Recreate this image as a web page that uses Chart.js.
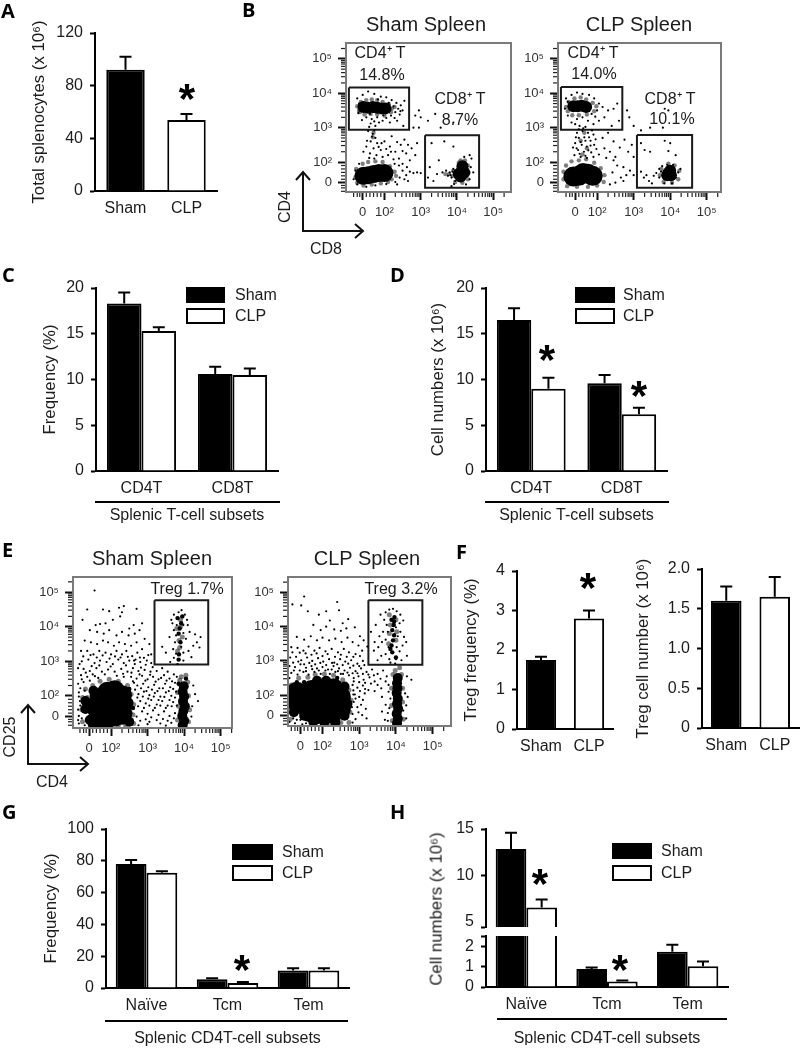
<!DOCTYPE html>
<html>
<head>
<meta charset="utf-8">
<title>Splenic T-cell subsets</title>
<script src="https://cdn.jsdelivr.net/npm/chart.js@4/dist/chart.umd.min.js"></script>
<style>
  html, body { margin: 0; padding: 0; background: #fff; }
  #fig { position: relative; width: 800px; height: 1049px; overflow: hidden; filter: blur(0.45px); font-family: "Liberation Sans", Arial, sans-serif; color: #1c1c1c; }
  #fig canvas { position: absolute; }
  .txt { position: absolute; white-space: nowrap; line-height: 1; }
  .rule { position: absolute; height: 2px; background: #000; }
  svg { position: absolute; left: 0; top: 0; }
</style>
</head>
<body>
<div id="fig"></div>
<script>
// ---- bar panels: values ----
const shamClp = ['Sham', 'CLP'];
const aValues = [92, 54];
const aErrTop = [102, 58.5];
const fFreqValues = [1.75, 2.8];
const fFreqErrTop = [1.83, 3.0];
const fNumValues = [1.6, 1.65];
const fNumErrTop = [1.78, 1.9];

const subsetCats = ['CD4T', 'CD8T'];
const cSham = [18.3, 10.6];
const cClp = [15.3, 10.5];
const cShamErr = [19.5, 11.4];
const cClpErr = [15.7, 11.2];
const dSham = [16.5, 9.6];
const dClp = [9.0, 6.2];
const dShamErr = [17.8, 10.5];
const dClpErr = [10.2, 6.9];

const memoryCats = ['Naïve', 'Tcm', 'Tem'];
const gSham = [78, 5.5, 11];
const gClp = [72.5, 3.2, 11];
const gShamErr = [80.5, 6.2, 12.5];
const gClpErr = [73.5, 3.7, 12.5];
const hSham = [12.86, 0.9, 1.75];
const hClp = [6.57, 0.27, 1.03];
const hShamErr = [14.6, 0.97, 2.1];
const hClpErr = [7.43, 0.32, 1.27];
const hUpperTicks = [15, 10, 5, 4.47];
const hLowerTicks = [0, 1, 2, 2.54];

// ---- flow plots: axis is in decades, "0" sits at 1.4 ----
const flowTicks = [1.4, 2, 3, 4, 5];
const flowTickLabels = ['0', '10²', '10³', '10⁴', '10⁵'];
const flowMinor = [1.15, 1.25, 1.32, 1.5, 1.6, 1.7, 1.8, 1.9, 2.3, 2.48, 2.6, 2.7, 2.78, 2.85, 2.9, 2.95, 3.3, 3.48, 3.6, 3.7, 3.78, 3.85, 3.9, 3.95, 4.3, 4.48, 4.6, 4.7, 4.78, 4.85, 4.9, 4.95, 5.3];

const bShamCd4Gate = [[1.02, 4.17], [2.68, 4.17], [2.68, 2.94], [1.02, 2.94], [1.02, 4.17]];
const bShamCd8Gate = [[3.12, 2.78], [4.61, 2.78], [4.61, 1.25], [3.12, 1.25], [3.12, 2.78]];
const bClpCd4Gate = [[1.01, 4.18], [2.69, 4.18], [2.69, 2.94], [1.01, 2.94], [1.01, 4.18]];
const bClpCd8Gate = [[3.09, 2.79], [4.6, 2.79], [4.6, 1.25], [3.09, 1.25], [3.09, 2.79]];
const eShamGate = [[3.19, 4.77], [4.66, 4.77], [4.66, 2.91], [3.19, 2.91], [3.19, 4.77]];
const eClpGate = [[3.25, 4.77], [4.72, 4.77], [4.72, 2.89], [3.25, 2.89], [3.25, 4.77]];

const bShamCores = [[1.42, 1.6], [1.55, 1.62], [1.7, 1.65], [1.85, 1.68], [2.0, 1.68]];
const bShamClumps = [[1.42, 3.6], [1.55, 3.58], [1.68, 3.6], [1.8, 3.58], [1.92, 3.56], [2.03, 3.56], [4.1, 1.58], [4.12, 1.72], [4.15, 1.88], [4.05, 1.65], [4.2, 1.7]];
const bShamHalo = [[1.25, 3.62], [1.3, 3.5], [1.35, 3.75], [1.5, 3.8], [1.65, 3.82], [1.8, 3.8], [1.95, 3.75], [2.12, 3.68], [2.2, 3.55], [2.28, 3.6], [2.18, 3.45], [2.0, 3.35], [1.8, 3.38], [1.62, 3.4], [1.45, 3.38], [1.32, 3.45],
  [1.2, 1.55], [1.22, 1.8], [1.25, 1.4], [1.4, 1.95], [1.55, 2.0], [1.75, 2.02], [1.95, 2.0], [2.15, 1.88], [2.28, 1.72], [2.32, 1.6], [2.2, 1.5], [2.1, 1.42], [1.9, 1.38], [1.65, 1.35], [1.42, 1.32],
  [3.88, 1.6], [3.9, 1.75], [3.95, 1.42], [4.3, 1.5], [4.32, 1.7], [4.3, 1.9], [4.22, 2.05], [4.05, 1.98], [4.1, 2.05], [4.15, 1.4], [3.78, 1.65], [3.68, 1.65], [1.68, 2.72], [1.7, 2.85]];
const bShamDots = [[1.25, 3.85], [1.4, 3.95], [1.55, 4.05], [1.72, 3.98], [1.9, 3.9], [2.05, 3.88], [2.2, 3.8], [2.33, 3.72], [2.45, 3.65], [2.5, 3.5], [2.42, 3.38], [2.3, 3.45], [2.18, 3.35], [2.05, 3.28], [1.95, 3.2], [1.8, 3.3], [1.65, 3.25], [1.5, 3.3], [1.38, 3.22], [1.28, 3.42], [1.62, 3.12], [1.75, 3.05], [1.85, 3.15], [2.15, 3.15], [2.35, 3.2], [2.52, 3.05], [1.58, 3.02], [1.72, 3.18], [2.25, 3.62], [2.38, 3.55], [2.55, 3.78], [2.28, 3.28], [2.44, 3.48], [1.97, 3.36], [1.6, 3.4], [1.82, 3.82], [1.3, 3.7], [2.12, 3.72],
  [1.55, 2.9], [1.68, 2.82], [1.75, 2.7], [1.62, 2.6], [1.8, 2.55], [1.5, 2.45], [1.7, 2.4], [1.9, 2.35], [1.6, 2.25], [1.78, 2.2], [1.72, 2.92], [1.66, 2.74], [1.52, 2.62], [1.84, 2.44], [1.42, 2.3], [1.58, 2.12], [1.72, 2.1], [1.92, 2.55],
  [2.0, 2.6], [2.15, 2.45], [2.3, 2.3], [2.1, 2.2], [2.45, 2.5], [2.6, 2.25], [2.4, 2.1], [2.75, 2.4], [2.55, 2.65], [2.85, 2.2], [2.9, 2.55], [2.2, 2.75], [2.7, 2.05], [1.95, 2.15], [2.25, 2.08], [2.05, 2.38], [2.35, 2.58], [2.5, 2.32], [2.65, 2.5], [2.18, 2.3],
  [2.4, 1.9], [2.5, 1.75], [2.6, 1.62], [2.7, 1.72], [2.8, 1.68], [2.9, 1.7], [3.0, 1.68], [2.55, 1.5], [2.35, 1.35], [2.65, 1.45], [2.5, 1.95], [2.3, 1.42], [2.42, 1.55], [2.28, 1.95], [2.62, 1.85], [1.15, 1.5], [1.2, 1.75], [1.25, 1.35], [1.3, 1.95], [1.5, 1.28], [1.75, 1.32], [2.05, 1.36],
  [2.95, 3.5], [2.85, 3.35], [3.0, 3.3], [3.2, 3.2], [3.4, 3.4], [3.55, 3.0], [3.9, 3.15], [2.8, 3.0], [2.95, 3.0],
  [3.3, 2.55], [3.65, 2.6], [3.9, 2.45], [3.25, 1.85], [3.45, 1.65], [3.6, 1.7], [3.7, 1.75], [3.75, 1.6], [3.8, 1.7], [3.85, 1.55], [3.9, 1.8], [3.95, 1.45], [4.35, 2.2], [4.4, 2.1], [4.2, 2.15], [3.5, 2.05], [3.2, 1.55], [3.35, 1.45], [4.35, 1.5], [4.45, 1.7], [3.85, 1.3], [4.25, 1.35], [3.82, 1.62], [3.88, 1.72], [4.38, 1.85], [3.92, 1.36]];

const bClpCores = [[1.35, 1.58], [1.5, 1.6], [1.62, 1.68], [1.75, 1.66], [1.88, 1.6]];
const bClpClumps = [[1.35, 3.62], [1.47, 3.62], [1.58, 3.64], [1.7, 3.6], [3.95, 1.68], [4.02, 1.62], [4.0, 1.75], [3.92, 1.62]];
const bClpHalo = [[1.15, 3.6], [1.2, 3.48], [1.22, 3.75], [1.38, 3.85], [1.55, 3.88], [1.7, 3.82], [1.88, 3.72], [1.98, 3.62], [1.92, 3.48], [1.72, 3.38], [1.5, 3.36], [1.32, 3.36],
  [1.08, 1.5], [1.08, 1.72], [1.15, 1.9], [1.3, 2.02], [1.5, 2.05], [1.7, 2.08], [1.92, 1.98], [2.1, 1.82], [2.2, 1.62], [2.18, 1.42], [2.0, 1.32], [1.75, 1.28], [1.45, 1.28], [1.18, 1.3],
  [3.72, 1.62], [3.76, 1.8], [3.82, 1.42], [4.22, 1.5], [4.25, 1.75], [4.12, 1.9], [3.95, 1.95], [4.05, 1.4], [1.65, 2.85], [1.55, 2.62], [1.72, 2.4], [1.6, 2.22]];
const bClpDots = [[1.15, 3.85], [1.3, 3.95], [1.45, 4.02], [1.6, 3.98], [1.78, 3.95], [1.92, 3.85], [2.05, 3.7], [2.15, 3.6], [2.3, 3.5], [2.45, 3.55], [2.55, 3.7], [2.2, 3.3], [2.05, 3.2], [1.9, 3.1], [1.75, 3.2], [1.6, 3.3], [1.45, 3.25], [1.3, 3.15], [1.2, 3.35], [1.12, 3.55], [1.85, 3.4], [1.52, 3.05], [1.68, 3.02], [2.4, 3.05], [2.6, 3.2], [1.4, 3.1], [1.95, 3.32], [2.0, 3.5], [1.8, 3.6], [1.2, 3.75],
  [1.45, 2.85], [1.6, 2.9], [1.75, 2.85], [1.9, 2.8], [1.5, 2.7], [1.65, 2.72], [1.82, 2.62], [1.4, 2.55], [1.58, 2.5], [1.72, 2.45], [1.92, 2.5], [1.48, 2.35], [1.64, 2.3], [1.84, 2.28], [1.98, 2.38], [1.38, 2.2], [1.55, 2.15], [1.72, 2.12], [1.9, 2.15], [2.05, 2.22], [1.44, 2.4], [1.78, 2.72], [1.55, 2.58], [1.68, 2.18], [1.42, 2.72], [1.86, 2.92], [1.62, 2.98], [1.96, 2.66], [1.76, 2.34], [1.34, 2.42], [1.5, 2.95], [1.68, 2.62], [1.82, 2.48], [1.52, 2.24],
  [2.15, 2.7], [2.3, 2.85], [2.45, 2.6], [2.2, 2.4], [2.35, 2.3], [2.5, 2.15], [2.62, 2.42], [2.75, 2.65], [2.85, 2.3], [2.95, 2.5], [3.0, 2.15], [2.55, 1.9], [2.72, 1.85], [2.9, 1.75], [2.45, 2.05], [2.25, 2.12], [2.82, 3.5], [2.88, 3.3], [3.0, 3.05], [3.2, 2.92], [3.45, 3.0], [3.8, 3.0], [3.85, 3.55], [3.95, 3.5], [2.65, 1.55], [2.5, 1.4], [2.72, 1.45], [2.35, 1.35], [2.42, 1.7], [2.8, 1.62], [3.0, 1.62],
  [3.2, 2.55], [3.3, 2.35], [3.85, 2.62], [4.0, 2.55], [3.95, 2.32], [4.15, 2.2], [3.45, 2.3], [3.2, 1.72], [3.28, 1.55], [3.35, 1.62], [3.42, 1.45], [3.5, 1.38], [3.55, 1.6], [3.62, 1.68], [3.7, 1.8], [3.75, 1.72], [3.78, 1.88], [3.84, 1.38], [3.92, 1.92], [4.08, 1.92], [4.15, 1.55], [4.22, 1.7], [4.28, 1.8], [4.05, 1.38], [3.7, 1.55]];

const eShamCores = [[1.68, 1.6], [1.7, 1.9], [1.72, 1.35], [1.9, 1.35], [1.92, 1.65], [1.95, 2.0], [1.9, 2.12], [2.1, 1.4], [2.12, 1.7], [2.15, 2.0], [2.1, 2.16], [2.3, 1.45], [2.32, 1.75], [2.3, 2.02]];
const eShamClumps = [[3.96, 1.15], [4.0, 1.28], [3.95, 1.42], [3.98, 1.56], [4.02, 1.7], [3.97, 1.84], [4.0, 1.98], [3.96, 2.12], [3.99, 2.28], [1.5, 1.55], [1.48, 1.8], [1.55, 2.0], [2.45, 1.5], [2.48, 1.8], [1.42, 1.3], [1.3, 1.62], [1.3, 1.85], [1.5, 1.18], [1.52, 2.15], [2.5, 1.25]];
const eShamHalo = [[1.22, 1.25], [1.2, 1.6], [1.22, 1.95], [1.3, 2.2], [1.5, 2.3], [1.7, 2.42], [1.95, 2.48], [2.2, 2.42], [2.45, 2.3], [2.55, 2.05], [2.62, 1.75], [2.6, 1.45], [2.62, 1.2], [2.4, 1.15], [2.2, 1.15], [1.95, 1.12], [1.7, 1.12], [1.5, 1.2], [1.35, 1.3], [1.38, 1.65], [1.35, 1.95],
  [3.82, 1.3], [3.85, 1.7], [3.82, 2.1], [3.88, 2.45], [4.12, 1.25], [4.15, 1.6], [4.12, 2.0], [4.1, 2.4], [3.92, 2.55], [4.05, 2.6],
  [3.82, 3.3], [3.86, 3.6], [3.9, 4.0], [3.95, 3.7], [3.8, 3.95], [3.88, 3.4], [3.9, 4.2]];
const eShamMid = [[3.86, 3.2], [3.9, 3.55], [3.85, 3.8], [3.88, 3.95], [3.92, 4.1], [3.82, 4.25], [3.95, 4.3], [3.85, 3.05], [4.05, 2.5], [3.85, 2.35], [1.42, 1.4], [2.5, 2.2], [2.55, 1.25], [2.6, 1.65]];
const eShamDots = [[1.55, 5.05], [1.35, 4.5], [1.78, 4.5], [1.95, 4.45], [2.22, 4.55], [2.35, 4.6], [2.3, 4.42], [2.25, 4.3], [2.7, 4.52], [1.22, 4.2], [1.58, 4.05], [1.7, 4.08], [1.85, 4.1], [2.05, 4.2], [2.5, 3.95], [2.62, 4.05], [2.85, 4.1], [1.42, 3.9], [1.62, 3.85], [1.8, 3.8], [1.95, 3.9], [2.15, 3.75], [2.3, 3.85], [2.48, 3.75], [2.65, 3.8], [2.78, 3.9], [2.92, 3.65], [1.28, 3.6], [1.45, 3.55], [1.62, 3.5], [1.78, 3.6], [1.92, 3.55], [2.08, 3.45], [2.22, 3.55], [2.38, 3.5], [2.55, 3.45], [2.7, 3.55], [2.85, 3.35], [3.05, 3.5], [1.18, 3.3], [1.35, 3.3], [1.52, 3.2], [1.68, 3.3], [1.85, 3.25], [2.0, 3.2], [2.15, 3.3], [2.3, 3.2], [2.42, 3.3], [2.58, 3.15], [2.72, 3.25], [2.9, 3.1], [3.1, 3.2], [1.2, 3.0], [1.38, 3.05], [1.55, 2.95], [1.7, 3.02], [1.88, 2.98], [2.05, 2.92], [2.2, 3.05], [2.35, 2.95], [2.5, 3.02], [2.65, 2.92], [2.8, 2.98], [2.95, 2.9], [3.1, 2.95], [1.1, 2.8], [1.25, 2.78], [1.42, 2.72], [1.6, 2.8], [1.75, 2.7], [1.92, 2.76], [2.1, 2.7], [2.28, 2.78], [2.45, 2.7], [2.6, 2.8], [2.75, 2.72], [2.92, 2.75], [3.08, 2.7], [3.25, 2.72], [3.4, 2.8], [3.55, 2.7], [1.18, 2.6], [1.35, 2.55], [1.5, 2.62], [1.65, 2.52], [2.55, 2.55], [2.7, 2.5], [2.85, 2.58], [3.0, 2.48], [3.15, 2.55], [3.3, 2.48], [3.45, 2.6], [3.6, 2.5], [3.72, 2.62], [1.1, 2.35], [1.25, 2.4], [2.72, 2.3], [2.88, 2.35], [3.02, 2.25], [3.18, 2.32], [3.32, 2.22], [3.48, 2.35], [3.62, 2.25], [3.75, 2.38], [1.12, 2.1], [1.28, 2.15], [2.75, 2.05], [2.9, 2.12], [3.05, 2.02], [3.2, 2.08], [3.35, 1.98], [3.5, 2.1], [3.65, 2.0], [3.78, 2.12], [1.15, 1.85], [1.1, 1.6], [2.8, 1.85], [2.95, 1.78], [3.1, 1.88], [3.25, 1.75], [3.4, 1.85], [3.55, 1.72], [3.7, 1.82], [3.8, 1.72], [1.2, 1.35], [1.12, 1.2], [2.7, 1.4], [2.85, 1.55], [3.0, 1.48], [3.15, 1.58], [3.3, 1.45], [3.45, 1.55], [3.6, 1.42], [3.75, 1.5], [3.05, 1.25], [3.35, 1.2], [3.65, 1.22], [4.25, 2.3], [4.3, 2.05], [4.22, 1.7], [4.38, 1.85], [4.2, 1.4],
  [3.72, 4.35], [3.65, 4.2], [3.85, 4.42], [3.93, 4.48], [4.02, 4.35], [4.08, 4.2], [3.98, 4.05], [3.8, 4.05], [3.72, 3.9], [3.78, 3.75], [3.98, 3.82], [4.05, 3.65], [3.75, 3.55], [3.92, 3.42], [3.7, 3.35], [3.4, 3.42], [3.5, 3.25], [3.98, 3.25], [4.12, 3.3], [3.72, 3.1], [3.98, 3.02], [4.2, 3.12], [4.35, 3.55], [4.45, 3.7], [4.3, 3.78], [4.15, 3.85], [4.42, 3.4], [4.25, 3.45], [3.62, 2.98], [3.82, 2.92], [4.1, 4.05], [3.6, 3.7], [3.78, 3.22], [3.68, 4.1]];
const eShamMore = [[1.14, 2.92], [1.31, 2.67], [1.47, 2.86], [1.56, 2.57], [1.68, 2.88], [1.83, 2.62], [1.99, 2.85], [2.16, 2.58], [2.33, 2.64], [2.41, 2.88], [2.56, 2.67], [2.67, 3.05], [2.82, 2.82], [2.98, 3.02], [3.14, 2.83], [1.24, 3.14], [1.44, 3.18], [1.61, 3.11], [1.77, 3.17], [1.96, 3.08], [2.11, 3.14], [2.26, 3.11], [2.46, 3.13], [2.63, 3.02], [2.79, 3.11], [3.02, 3.18],
  [2.63, 2.38], [2.78, 2.62], [2.94, 2.44], [3.07, 2.61], [3.22, 2.41], [3.37, 2.52], [3.52, 2.44], [3.67, 2.42], [3.8, 2.55], [2.66, 2.18], [2.82, 2.22], [2.97, 2.14], [3.12, 2.18], [3.27, 2.14], [3.42, 2.22], [3.58, 2.14], [3.7, 2.2], [2.72, 1.95], [2.87, 1.98], [3.02, 1.92], [3.17, 1.98], [3.3, 1.88], [3.46, 1.97], [3.6, 1.88], [3.75, 1.95], [2.74, 1.7], [2.9, 1.65], [3.05, 1.72], [3.2, 1.65], [3.35, 1.72], [3.5, 1.65], [3.66, 1.7], [2.8, 1.28], [2.95, 1.32], [3.1, 1.38], [3.25, 1.3], [3.42, 1.33], [3.55, 1.28], [3.72, 1.35], [2.75, 1.15], [3.0, 1.18], [3.5, 1.14],
  [1.12, 1.42], [1.16, 1.72], [1.12, 1.98], [1.16, 2.22], [1.2, 2.48], [1.42, 2.44], [2.35, 2.55], [2.6, 2.42], [1.1, 1.3], [1.28, 1.15]];

const eClpCores = [[1.3, 1.8], [1.3, 2.1], [1.5, 1.7], [1.5, 2.05], [1.65, 1.5], [1.7, 1.85], [1.7, 2.15], [1.9, 1.45], [1.92, 1.8], [1.9, 2.2], [2.1, 1.45], [2.12, 1.8], [2.12, 2.2], [2.3, 1.5], [2.33, 1.85], [2.3, 2.2], [2.5, 1.6], [2.5, 1.95]];
const eClpClumps = [[4.03, 1.18], [4.05, 1.32], [4.02, 1.46], [4.06, 1.6], [4.03, 1.75], [4.05, 1.9], [4.02, 2.06], [4.04, 2.2], [4.03, 2.35], [4.05, 2.5], [1.22, 1.5], [2.6, 1.4], [2.68, 1.75], [2.6, 2.25], [2.1, 2.42], [1.85, 2.42], [1.5, 1.4], [1.75, 1.22], [2.05, 1.2], [2.35, 1.2]];
const eClpHalo = [[1.12, 1.3], [1.15, 1.6], [1.12, 2.0], [1.15, 2.3], [1.35, 2.5], [1.6, 2.52], [1.8, 2.6], [2.05, 2.62], [2.3, 2.58], [2.55, 2.45], [2.72, 2.15], [2.78, 1.85], [2.75, 1.5], [2.72, 1.2], [2.5, 1.2], [2.25, 1.15], [2.0, 1.15], [1.75, 1.2], [1.45, 1.35],
  [3.9, 1.25], [3.88, 1.7], [3.88, 2.2], [3.92, 2.6], [4.2, 1.3], [4.18, 1.8], [4.18, 2.2], [4.15, 2.6], [3.98, 2.72], [4.1, 2.8],
  [3.8, 3.5], [3.82, 3.8], [3.85, 4.05], [4.0, 3.6], [4.02, 3.85], [4.0, 4.2], [3.82, 4.35]];
const eClpMid = [[3.9, 3.25], [3.88, 3.45], [3.92, 3.6], [3.95, 3.75], [3.9, 3.9], [3.94, 4.05], [3.88, 4.2], [3.96, 4.28], [3.85, 3.35], [4.0, 3.1], [3.95, 4.15], [1.5, 2.38], [2.4, 2.5], [1.3, 2.38]];
const eClpDots = [[1.18, 4.65], [1.42, 4.62], [1.5, 4.88], [1.6, 4.45], [1.9, 4.35], [2.1, 4.45], [2.4, 4.72], [2.45, 4.48], [2.2, 4.18], [2.55, 4.1], [2.7, 4.22], [1.75, 4.05], [1.95, 3.9], [2.1, 4.0], [2.32, 3.92], [2.5, 3.88], [2.65, 3.95], [2.88, 3.98], [3.02, 3.72], [1.3, 3.7], [1.5, 3.62], [1.68, 3.72], [1.85, 3.6], [2.0, 3.68], [2.18, 3.6], [2.35, 3.65], [2.52, 3.55], [2.68, 3.68], [2.82, 3.55], [2.98, 3.45], [3.12, 3.6], [1.15, 3.4], [1.32, 3.38], [1.48, 3.3], [1.62, 3.42], [1.78, 3.3], [1.92, 3.38], [2.08, 3.28], [2.25, 3.35], [2.42, 3.25], [2.58, 3.35], [2.72, 3.25], [2.9, 3.2], [3.08, 3.3], [3.22, 3.42], [1.12, 3.1], [1.28, 3.12], [1.42, 3.02], [1.58, 3.1], [1.72, 3.0], [1.88, 3.08], [2.02, 2.98], [2.18, 3.05], [2.32, 2.95], [2.48, 3.05], [2.62, 2.98], [2.78, 3.02], [2.95, 2.92], [3.1, 3.0], [1.1, 2.85], [1.25, 2.82], [1.4, 2.9], [1.55, 2.8], [1.7, 2.85], [1.85, 2.78], [2.0, 2.82], [2.15, 2.75], [2.3, 2.85], [2.45, 2.78], [2.6, 2.72], [2.75, 2.8], [2.9, 2.7], [3.05, 2.78], [3.2, 2.68], [3.35, 2.75], [3.5, 2.62], [3.65, 2.72], [1.15, 2.65], [1.32, 2.6], [1.48, 2.68], [1.62, 2.6], [1.78, 2.68], [1.95, 2.62], [2.2, 2.62], [2.35, 2.68], [2.5, 2.62], [2.72, 2.58], [2.85, 2.5], [2.98, 2.55], [3.12, 2.45], [3.28, 2.52], [3.42, 2.4], [3.58, 2.48], [3.72, 2.4], [2.82, 2.3], [2.95, 2.22], [3.1, 2.28], [3.25, 2.15], [3.42, 2.12], [2.88, 2.02], [3.0, 1.95], [3.15, 2.05], [2.85, 1.8], [2.95, 1.65], [3.05, 1.72], [3.18, 1.6], [2.82, 1.45], [2.9, 1.3], [3.2, 1.32], [3.62, 1.95], [3.72, 1.72], [3.78, 1.48], [3.7, 1.28], [3.62, 1.52], [3.85, 1.9], [4.3, 2.55], [4.42, 2.45], [4.32, 1.95], [4.2, 1.55], [4.28, 1.32], [1.1, 1.22], [1.25, 1.18], [1.4, 1.28], [1.55, 1.18], [1.2, 1.32],
  [3.58, 4.35], [3.68, 4.2], [3.72, 4.42], [3.82, 4.5], [3.92, 4.52], [4.02, 4.45], [4.12, 4.35], [4.2, 4.18], [4.1, 4.1], [4.0, 3.98], [4.12, 3.85], [4.22, 3.7], [4.05, 3.72], [3.75, 4.05], [3.65, 3.85], [3.55, 3.72], [3.42, 3.55], [3.4, 3.3], [3.52, 3.4], [3.62, 3.55], [3.72, 3.62], [3.78, 3.85], [3.8, 3.4], [3.72, 3.2], [3.82, 3.05], [3.6, 3.15], [3.5, 3.02], [4.02, 3.4], [4.1, 3.28], [4.18, 3.45], [4.28, 3.55], [4.0, 3.05], [4.15, 3.02], [4.3, 3.15], [3.85, 2.95], [3.98, 2.92], [3.32, 3.85], [3.45, 4.05]];
const eClpMore = [[1.18, 3.25], [1.38, 3.24], [1.54, 3.22], [1.7, 3.18], [1.84, 3.22], [2.0, 3.14], [2.14, 3.2], [2.34, 3.12], [2.5, 3.18], [2.66, 3.12], [2.84, 3.12], [3.02, 3.14], [1.2, 2.95], [1.34, 2.98], [1.5, 2.9], [1.64, 2.94], [1.8, 2.9], [1.94, 2.94], [2.1, 2.88], [2.26, 2.94], [2.4, 2.9], [2.55, 2.88], [2.7, 2.92], [2.84, 2.86], [3.0, 2.85], [3.14, 2.88], [1.22, 2.72], [1.38, 2.72], [1.55, 2.7], [1.72, 2.76], [1.9, 2.72], [2.08, 2.72], [2.25, 2.75], [2.42, 2.7], [2.56, 2.62], [2.68, 2.66], [2.82, 2.64], [2.95, 2.64], [3.1, 2.62], [3.25, 2.6], [3.4, 2.58],
  [2.85, 2.4], [3.0, 2.38], [3.16, 2.36], [3.32, 2.34], [3.5, 2.3], [2.84, 2.14], [3.02, 2.12], [3.16, 2.18], [2.9, 1.9], [3.1, 1.86], [2.98, 1.5], [3.08, 1.42], [3.6, 2.2], [3.75, 2.55], [3.8, 2.1], [3.82, 1.62], [3.78, 1.25], [3.8, 2.3], [4.25, 2.05], [4.28, 1.7],
  [1.08, 1.5], [1.1, 1.85], [1.08, 2.2], [1.1, 2.5], [1.18, 1.42], [1.3, 1.28], [1.45, 1.15], [1.62, 1.28], [2.82, 1.2], [2.8, 1.65], [2.84, 2.02]];

// ---- shared helpers ----
const fig = document.getElementById('fig');
const FONT = '"Liberation Sans", Arial, sans-serif';
Chart.defaults.font.family = FONT;
Chart.defaults.color = '#1c1c1c';
Chart.defaults.animation = false;
Chart.defaults.responsive = false;
Chart.defaults.plugins.legend.display = false;
Chart.defaults.plugins.tooltip.enabled = false;

function txt(html, cx, cy, size, extra) {
  const d = document.createElement('div');
  d.className = 'txt';
  d.innerHTML = html;
  d.style.cssText = `left:${cx}px;top:${cy}px;font-size:${size}px;transform:translate(-50%,-50%);` + (extra || '');
  fig.appendChild(d);
}
function panelLetter(s, x, cy) {
  txt(s, x, cy, 20, 'transform:translate(0,-50%);font-family:"Open Sans";font-weight:700;color:#000;');
}
function star(cx, cy) {
  txt('*', cx, cy + 5, 42, 'font-weight:700;color:#000;');
}
function rule(x0, x1, y) {
  const d = document.createElement('div');
  d.className = 'rule';
  d.style.cssText = `left:${x0}px;width:${x1 - x0}px;top:${y - 1}px;`;
  fig.appendChild(d);
}
function addCanvas(left, top, w, h) {
  const c = document.createElement('canvas');
  c.width = w; c.height = h;
  c.style.left = left + 'px'; c.style.top = top + 'px';
  fig.appendChild(c);
  return c;
}

// error bars, upper side only, drawn from the bar's top
function whiskers(errs) {
  return {
    id: 'whiskers',
    afterDatasetsDraw(chart) {
      const { ctx, scales: { y } } = chart;
      ctx.save();
      ctx.strokeStyle = '#000'; ctx.lineWidth = 2;
      errs.forEach((arr, i) => {
        const meta = chart.getDatasetMeta(i);
        arr.forEach((e, j) => {
          const v = chart.data.datasets[i].data[j];
          if (e > y.max || v < y.min) return;
          const x = meta.data[j].x;
          const y0 = y.getPixelForValue(v), y1 = y.getPixelForValue(e);
          ctx.beginPath();
          ctx.moveTo(x, y0); ctx.lineTo(x, y1);
          ctx.moveTo(x - 6, y1); ctx.lineTo(x + 6, y1);
          ctx.stroke();
        });
      });
      ctx.restore();
    },
  };
}
// legend boxes from the dataset labels; x/y are page coordinates
function boxLegend(x0, x1, textX, rows, canvasLeft, canvasTop) {
  return {
    id: 'boxLegend',
    afterDraw(chart) {
      const { ctx } = chart;
      ctx.save();
      ctx.font = '16px ' + FONT;
      ctx.textBaseline = 'middle';
      chart.data.datasets.forEach((ds, i) => {
        const [t, b] = rows[i];
        ctx.fillStyle = ds.backgroundColor;
        ctx.strokeStyle = '#000'; ctx.lineWidth = 2;
        ctx.fillRect(x0 - canvasLeft, t - canvasTop, x1 - x0, b - t);
        ctx.strokeRect(x0 - canvasLeft, t - canvasTop, x1 - x0, b - t);
        ctx.fillStyle = '#1c1c1c';
        ctx.fillText(ds.label, textX - canvasLeft, (t + b) / 2 - canvasTop + 1);
      });
      ctx.restore();
    },
  };
}

const LM = 82, TM = 12, RM = 4;
// chart area must stay where the box says, whatever the tick labels want
function pinX(height) {
  return (s) => { s.height = height; s.paddingLeft = 0; s.paddingRight = 0; };
}
function pinY(width) {
  return (s) => { s.width = width; s.paddingTop = 0; s.paddingBottom = 0; };
}

function barChart(cfg) {
  const [l, t, r, b] = cfg.box;
  const bottomM = cfg.bottomM || 30;
  const cLeft = l - LM, cTop = t - TM;
  const canvas = addCanvas(cLeft, cTop, r - l + LM + RM, b - t + TM + bottomM);
  const plugins = [whiskers(cfg.errs)];
  if (cfg.legend) plugins.push(boxLegend(cfg.legend[0], cfg.legend[1], cfg.legend[2], cfg.legend[3], cLeft, cTop));
  const yTicks = { font: { size: 16 }, padding: 7, autoSkip: false };
  if (cfg.tickList) {
    yTicks.callback = (v) => (cfg.tickHide && cfg.tickHide.includes(v) ? '' : String(v));
  } else {
    yTicks.stepSize = cfg.step;
  }
  return new Chart(canvas, {
    type: 'bar',
    data: { labels: cfg.cats, datasets: cfg.datasets },
    options: {
      layout: { padding: { top: TM, right: RM, left: 0, bottom: 0 } },
      scales: {
        x: {
          display: cfg.hideX ? false : true,
          offset: true,
          grid: { drawOnChartArea: false, drawTicks: false },
          border: { color: '#000', width: 2 },
          ticks: { font: { size: 16 }, padding: 8, maxRotation: 0, autoSkip: false },
          title: cfg.xTitle ? { display: true, text: cfg.xTitle, font: { size: 16 }, padding: { top: 0, bottom: bottomM - cfg.xTitleAt - 9.6 } } : { display: false },
          afterFit: pinX(bottomM),
        },
        y: {
          min: cfg.min, max: cfg.max,
          grid: {
            drawOnChartArea: false, tickLength: 5, tickWidth: 2,
            tickColor: (c) => (cfg.tickBlank && cfg.tickBlank.includes(c.tick && c.tick.value) ? 'transparent' : '#000'),
          },
          border: { color: '#000', width: 2 },
          ticks: yTicks,
          afterBuildTicks: cfg.tickList ? (s) => { s.ticks = cfg.tickList.map((v) => ({ value: v })); } : undefined,
          title: cfg.yTitle ? { display: true, text: cfg.yTitle, font: { size: 16.8 }, padding: { top: cfg.yTitleX - cLeft - 10, bottom: 0 } } : { display: false },
          afterFit: pinY(LM),
        },
      },
    },
    plugins,
  });
}
function pairSets(sham, clp) {
  return [
    { label: 'Sham', data: sham, backgroundColor: '#000', borderColor: '#000', borderWidth: 2, categoryPercentage: 0.76, barPercentage: 1 },
    { label: 'CLP', data: clp, backgroundColor: '#fff', borderColor: '#000', borderWidth: 2, categoryPercentage: 0.76, barPercentage: 1 },
  ];
}
function singleSet(values) {
  return [{ data: values, backgroundColor: ['#000', '#fff'], borderColor: '#000', borderWidth: 2, categoryPercentage: 1, barPercentage: 0.63 }];
}

// little ticks plus the grey frame of a flow plot
const flowFrame = {
  id: 'flowFrame',
  afterDraw(chart) {
    const { ctx, chartArea: a, scales: { x, y } } = chart;
    ctx.save();
    ctx.strokeStyle = '#222'; ctx.lineWidth = 1.2;
    flowMinor.forEach((v) => {
      if (v > x.min) { const px = x.getPixelForValue(v); ctx.beginPath(); ctx.moveTo(px, a.bottom); ctx.lineTo(px, a.bottom + 5); ctx.stroke(); }
      if (v > y.min) { const py = y.getPixelForValue(v); ctx.beginPath(); ctx.moveTo(a.left, py); ctx.lineTo(a.left - 5, py); ctx.stroke(); }
    });
    ctx.strokeStyle = '#7a7a7a'; ctx.lineWidth = 2;
    ctx.strokeRect(a.left, a.top, a.right - a.left, a.bottom - a.top);
    ctx.restore();
  },
};
function flowLayer(list, r, color) {
  return { data: list.map(([x, y]) => ({ x, y })), pointRadius: r, pointBackgroundColor: color || '#000', pointBorderWidth: 0, showLine: false };
}
function gateLine(list) {
  return { data: list.map(([x, y]) => ({ x, y })), showLine: true, pointRadius: 0, borderColor: '#1a1a1a', borderWidth: 2, fill: false };
}
function flowChart(cfg) {
  const [l, t, r, b] = cfg.box;
  const lm = 42, tm = 6, rm = 6, bm = 32;
  const canvas = addCanvas(l - lm, t - tm, r - l + lm + rm, b - t + tm + bm);
  const tick = { font: { size: 13 }, color: '#333', autoSkip: false, maxRotation: 0, callback: (v, i) => flowTickLabels[i] };
  const grid = { drawOnChartArea: false, tickLength: 8, tickWidth: 2, tickColor: '#111' };
  return new Chart(canvas, {
    type: 'scatter',
    data: { datasets: cfg.layers },
    options: {
      layout: { autoPadding: false, padding: { top: tm, right: rm, left: 0, bottom: 0 } },
      scales: {
        x: {
          type: 'linear', min: cfg.xr[0], max: cfg.xr[1], grid, border: { display: false },
          ticks: { ...tick, padding: 5 },
          afterBuildTicks: (s) => { s.ticks = flowTicks.map((v) => ({ value: v })); },
          afterFit: pinX(bm),
        },
        y: {
          type: 'linear', min: cfg.yr[0], max: cfg.yr[1], grid, border: { display: false },
          ticks: { ...tick, padding: 6 },
          afterBuildTicks: (s) => { s.ticks = flowTicks.map((v) => ({ value: v })); },
          afterFit: pinY(lm),
        },
      },
    },
    plugins: [flowFrame],
  });
}

// ---- panels ----
barChart({ box: [95, 33, 217, 191], cats: shamClp, datasets: singleSet(aValues), errs: [aErrTop], min: 0, max: 120, step: 40,
  yTitle: 'Total splenocytes (x 10⁶)', yTitleX: 39 });
barChart({ box: [96, 288, 278, 471], cats: subsetCats, datasets: pairSets(cSham, cClp), errs: [cShamErr, cClpErr], min: 0, max: 20, step: 5,
  yTitle: 'Frequency (%)', yTitleX: 50, xTitle: 'Splenic T-cell subsets', xTitleAt: 45, bottomM: 55,
  legend: [187, 224, 235, [[288, 302], [309, 323]]] });
barChart({ box: [486, 288, 667, 471], cats: subsetCats, datasets: pairSets(dSham, dClp), errs: [dShamErr, dClpErr], min: 0, max: 20, step: 5,
  yTitle: 'Cell numbers (x 10⁶)', yTitleX: 438, xTitle: 'Splenic T-cell subsets', xTitleAt: 45, bottomM: 55,
  legend: [576, 614, 623, [[288, 302], [309, 323]]] });
barChart({ box: [517, 571, 613, 729], cats: shamClp, datasets: singleSet(fFreqValues), errs: [fFreqErrTop], min: 0, max: 4, step: 1,
  yTitle: 'Treg frequency (%)', yTitleX: 471 });
barChart({ box: [702, 569, 799, 728], cats: shamClp, datasets: singleSet(fNumValues), errs: [fNumErrTop], min: 0, max: 2, step: 0.5,
  yTitle: 'Treg cell number (x 10⁶)', yTitleX: 643 });
barChart({ box: [106, 829, 349, 988], cats: memoryCats, datasets: pairSets(gSham, gClp), errs: [gShamErr, gClpErr], min: 0, max: 100, step: 20,
  yTitle: 'Frequency (%)', yTitleX: 51, xTitle: 'Splenic CD4T-cell subsets', xTitleAt: 51, bottomM: 58,
  legend: [233, 272, 282, [[845, 859], [866, 880]]] });
// H has a broken y axis: two charts over the same values
barChart({ box: [486, 829, 728, 927], cats: memoryCats, datasets: pairSets(hSham, hClp), errs: [hShamErr, hClpErr], min: 4.47, max: 15,
  tickList: hUpperTicks, tickHide: [4.47], tickBlank: [5], hideX: true, bottomM: 4,
  legend: [613, 651, 661, [[844, 858], [866, 880]]] });
barChart({ box: [486, 936, 728, 987], cats: memoryCats, datasets: pairSets(hSham, hClp), errs: [hShamErr, hClpErr], min: 0, max: 2.54,
  tickList: hLowerTicks, tickHide: [2.54], xTitle: 'Splenic CD4T-cell subsets', xTitleAt: 52, bottomM: 58 });

const HALO = 'rgba(0,0,0,0.5)';
flowChart({ box: [346, 43, 511, 192], xr: [0.94, 5.49], yr: [1.13, 5.46], layers: [
  flowLayer(bShamHalo, 2.2, HALO), flowLayer(bShamCores, 9), flowLayer(bShamClumps, 6), flowLayer(bShamDots, 1.1), gateLine(bShamCd4Gate), gateLine(bShamCd8Gate)] });
flowChart({ box: [558, 43, 721, 192], xr: [0.93, 5.39], yr: [1.13, 5.46], layers: [
  flowLayer(bClpHalo, 2.2, HALO), flowLayer(bClpCores, 10), flowLayer(bClpClumps, 6), flowLayer(bClpDots, 1.1), gateLine(bClpCd4Gate), gateLine(bClpCd8Gate)] });
flowChart({ box: [73, 577, 232, 728], xr: [0.96, 5.31], yr: [1.07, 5.44], layers: [
  flowLayer(eShamHalo, 2.5, HALO), flowLayer(eShamCores, 10), flowLayer(eShamClumps, 5), flowLayer(eShamMid, 2.2), flowLayer(eShamDots, 1.1), flowLayer(eShamMore, 1.1), gateLine(eShamGate)] });
flowChart({ box: [288, 577, 451, 726], xr: [1.06, 5.5], yr: [1.1, 5.45], layers: [
  flowLayer(eClpHalo, 2.5, HALO), flowLayer(eClpCores, 10), flowLayer(eClpClumps, 5), flowLayer(eClpMid, 2.2), flowLayer(eClpDots, 1.1), flowLayer(eClpMore, 1.1), gateLine(eClpGate)] });

// ---- text and marks around the plots ----
panelLetter('A', 1, 11); panelLetter('B', 242, 10); panelLetter('C', 2, 275); panelLetter('D', 390, 275);
panelLetter('E', 2, 550); panelLetter('F', 456, 552); panelLetter('G', 2, 812); panelLetter('H', 390, 812);

txt('Sham Spleen', 426, 24, 20); txt('CLP Spleen', 639, 24, 20);
txt('Sham Spleen', 152, 558, 20); txt('CLP Spleen', 367, 558, 20);
txt('CD4⁺ T', 380, 53, 16); txt('14.8%', 382, 75, 16); txt('CD8⁺ T', 460, 99, 16); txt('8.7%', 460, 120, 16);
txt('CD4⁺ T', 593, 53, 16); txt('14.0%', 594, 74, 16); txt('CD8⁺ T', 670, 99, 16); txt('10.1%', 672, 119, 16);
txt('Treg 1.7%', 187, 589, 16); txt('Treg 3.2%', 401, 589, 16);
txt('CD4', 285, 207, 16, 'transform:translate(-50%,-50%) rotate(-90deg);'); txt('CD8', 326, 249, 16);
txt('CD25', 10, 737, 16, 'transform:translate(-50%,-50%) rotate(-90deg);'); txt('CD4', 52, 782, 16);
txt('Cell numbers (x 10⁶)', 437, 909, 16.8, 'transform:translate(-50%,-50%) rotate(-90deg);');

star(187, 94); star(547, 355); star(639, 391); star(588, 583); star(242, 965); star(540, 879); star(620, 965);
rule(95, 280, 502); rule(485, 669, 502); rule(105, 348, 1021); rule(497, 727, 1019);

const arrows = document.createElementNS('http://www.w3.org/2000/svg', 'svg');
arrows.setAttribute('width', 800); arrows.setAttribute('height', 1049);
arrows.innerHTML = `<g fill="none" stroke="#111" stroke-width="2">
  <path d="M303 172V231H363M296 180L303 172L310 180M355 224L363 231L355 238"/>
  <path d="M28 705V764H88M21 713L28 705L35 713M80 757L88 764L80 771"/></g>`;
fig.appendChild(arrows);
</script>
</body>
</html>
